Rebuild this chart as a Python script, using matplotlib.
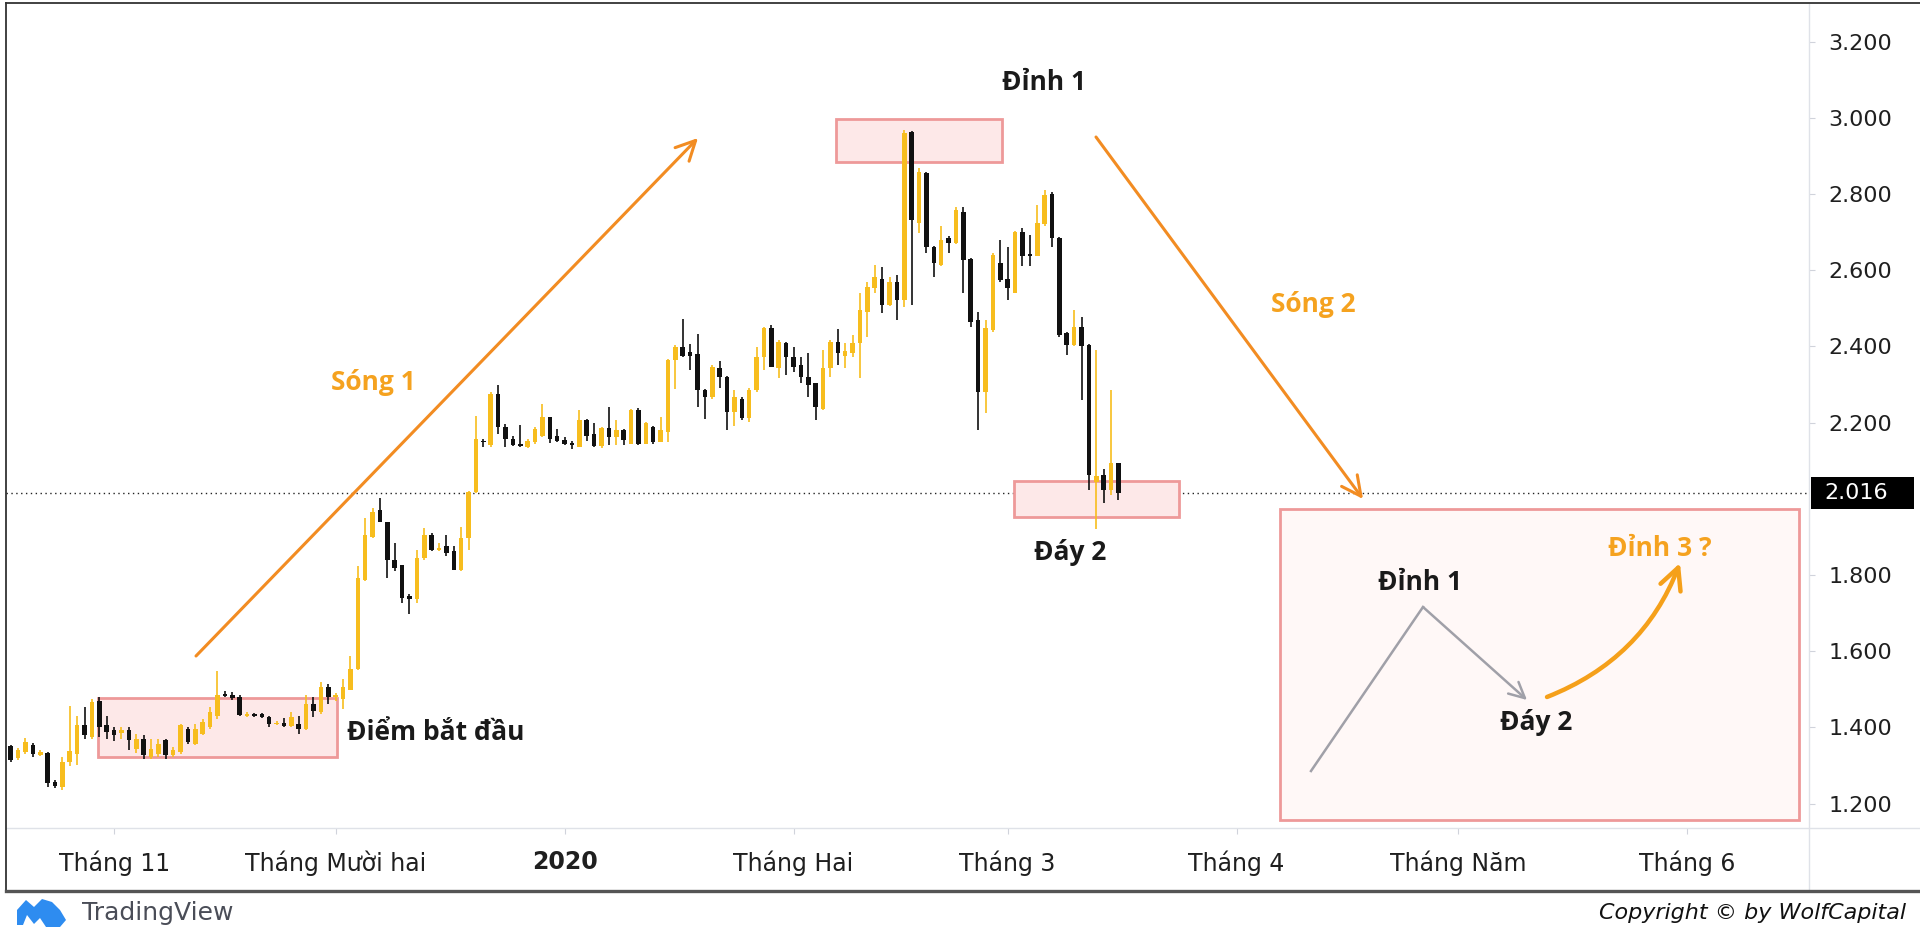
import numpy as np
import pandas as pd
import matplotlib
matplotlib.use("Agg")
import matplotlib.pyplot as plt
from matplotlib.patches import Rectangle, FancyArrowPatch, Polygon

# daily candles, 2019-10-18 .. 2020-03-16
start_date = "2019-10-18"
opens = [1.350, 1.320, 1.336, 1.355, 1.328, 1.334, 1.257, 1.244, 1.310, 1.331,
         1.405, 1.375, 1.470, 1.405, 1.392, 1.386, 1.392, 1.344, 1.370, 1.323,
         1.331, 1.366, 1.327, 1.336, 1.397, 1.357, 1.383, 1.401, 1.431, 1.487,
         1.484, 1.479, 1.431, 1.436, 1.436, 1.427, 1.408, 1.412, 1.403, 1.410,
         1.397, 1.462, 1.440, 1.505, 1.479, 1.475, 1.497, 1.553, 1.788, 1.901,
         1.971, 1.940, 1.840, 1.827, 1.744, 1.736, 1.845, 1.906, 1.866, 1.875,
         1.862, 1.814, 1.897, 2.019, 2.153, 2.140, 2.276, 2.188, 2.158, 2.143,
         2.136, 2.149, 2.166, 2.215, 2.164, 2.155, 2.145, 2.136, 2.208, 2.171,
         2.138, 2.187, 2.162, 2.181, 2.145, 2.234, 2.145, 2.188, 2.149, 2.175,
         2.363, 2.398, 2.385, 2.379, 2.285, 2.267, 2.344, 2.320, 2.228, 2.263,
         2.211, 2.285, 2.373, 2.447, 2.342, 2.408, 2.373, 2.351, 2.320, 2.303,
         2.237, 2.342, 2.412, 2.375, 2.382, 2.408, 2.491, 2.552, 2.578, 2.508,
         2.570, 2.522, 2.963, 2.723, 2.855, 2.662, 2.614, 2.684, 2.671, 2.754,
         2.629, 2.469, 2.281, 2.443, 2.618, 2.576, 2.541, 2.701, 2.643, 2.638,
         2.721, 2.800, 2.684, 2.435, 2.404, 2.452, 2.403, 2.045, 2.062, 2.023,
         2.093]
highs = [1.355, 1.346, 1.372, 1.360, 1.340, 1.336, 1.262, 1.323, 1.457, 1.431,
         1.453, 1.475, 1.479, 1.431, 1.401, 1.401, 1.401, 1.383, 1.379, 1.370,
         1.370, 1.370, 1.349, 1.410, 1.401, 1.410, 1.423, 1.453, 1.549, 1.496,
         1.492, 1.484, 1.440, 1.438, 1.438, 1.431, 1.418, 1.424, 1.440, 1.431,
         1.484, 1.479, 1.518, 1.514, 1.490, 1.527, 1.588, 1.823, 1.949, 1.975,
         2.001, 1.940, 1.884, 1.827, 1.749, 1.866, 1.923, 1.910, 1.885, 1.906,
         1.875, 1.927, 2.020, 2.217, 2.158, 2.280, 2.298, 2.197, 2.166, 2.193,
         2.158, 2.188, 2.248, 2.216, 2.184, 2.162, 2.153, 2.234, 2.210, 2.199,
         2.188, 2.241, 2.208, 2.184, 2.236, 2.238, 2.201, 2.190, 2.216, 2.368,
         2.403, 2.473, 2.407, 2.433, 2.289, 2.350, 2.362, 2.322, 2.285, 2.268,
         2.290, 2.399, 2.451, 2.456, 2.417, 2.412, 2.399, 2.373, 2.382, 2.305,
         2.390, 2.417, 2.445, 2.410, 2.430, 2.539, 2.570, 2.613, 2.609, 2.583,
         2.587, 2.968, 2.966, 2.868, 2.859, 2.664, 2.716, 2.690, 2.767, 2.767,
         2.631, 2.491, 2.469, 2.645, 2.680, 2.662, 2.702, 2.710, 2.693, 2.771,
         2.811, 2.804, 2.686, 2.437, 2.496, 2.478, 2.407, 2.390, 2.077, 2.285,
         2.095]
lows = [1.310, 1.314, 1.331, 1.323, 1.325, 1.244, 1.242, 1.236, 1.300, 1.301,
        1.370, 1.370, 1.375, 1.370, 1.363, 1.370, 1.340, 1.334, 1.318, 1.317,
        1.323, 1.318, 1.323, 1.331, 1.357, 1.353, 1.379, 1.397, 1.423, 1.479,
        1.473, 1.431, 1.427, 1.428, 1.425, 1.401, 1.405, 1.401, 1.401, 1.383,
        1.392, 1.427, 1.436, 1.462, 1.470, 1.449, 1.497, 1.550, 1.784, 1.897,
        1.940, 1.792, 1.810, 1.727, 1.697, 1.727, 1.840, 1.862, 1.862, 1.849,
        1.814, 1.810, 1.866, 2.015, 2.136, 2.136, 2.171, 2.136, 2.138, 2.136,
        2.134, 2.145, 2.162, 2.147, 2.149, 2.140, 2.131, 2.136, 2.153, 2.136,
        2.134, 2.140, 2.140, 2.140, 2.143, 2.140, 2.143, 2.143, 2.149, 2.149,
        2.289, 2.372, 2.337, 2.241, 2.210, 2.263, 2.292, 2.180, 2.191, 2.207,
        2.202, 2.281, 2.338, 2.345, 2.316, 2.325, 2.334, 2.303, 2.268, 2.207,
        2.233, 2.320, 2.351, 2.342, 2.373, 2.316, 2.425, 2.539, 2.487, 2.506,
        2.469, 2.504, 2.508, 2.697, 2.645, 2.583, 2.610, 2.645, 2.669, 2.540,
        2.452, 2.181, 2.225, 2.439, 2.570, 2.522, 2.539, 2.611, 2.610, 2.636,
        2.715, 2.662, 2.424, 2.378, 2.400, 2.260, 2.023, 1.922, 1.988, 2.010,
        1.996]
closes = [1.314, 1.340, 1.362, 1.331, 1.336, 1.253, 1.247, 1.310, 1.338, 1.405,
          1.379, 1.466, 1.401, 1.388, 1.381, 1.392, 1.366, 1.370, 1.327, 1.344,
          1.357, 1.327, 1.340, 1.405, 1.362, 1.397, 1.414, 1.440, 1.484, 1.482,
          1.477, 1.433, 1.436, 1.431, 1.427, 1.410, 1.410, 1.403, 1.427, 1.397,
          1.462, 1.444, 1.505, 1.479, 1.484, 1.505, 1.553, 1.792, 1.906, 1.966,
          1.940, 1.840, 1.819, 1.740, 1.737, 1.845, 1.906, 1.866, 1.870, 1.858,
          1.814, 1.897, 2.019, 2.156, 2.148, 2.276, 2.188, 2.158, 2.140, 2.138,
          2.153, 2.184, 2.215, 2.158, 2.151, 2.143, 2.142, 2.208, 2.166, 2.138,
          2.187, 2.162, 2.181, 2.155, 2.234, 2.145, 2.199, 2.149, 2.181, 2.363,
          2.398, 2.376, 2.376, 2.285, 2.267, 2.346, 2.320, 2.228, 2.268, 2.211,
          2.285, 2.373, 2.447, 2.347, 2.412, 2.373, 2.347, 2.320, 2.298, 2.242,
          2.342, 2.412, 2.382, 2.388, 2.408, 2.495, 2.557, 2.583, 2.508, 2.570,
          2.522, 2.959, 2.732, 2.859, 2.662, 2.618, 2.680, 2.671, 2.758, 2.627,
          2.465, 2.281, 2.448, 2.640, 2.575, 2.553, 2.701, 2.638, 2.638, 2.723,
          2.798, 2.684, 2.430, 2.404, 2.452, 2.400, 2.062, 2.060, 2.023, 2.093,
          2.016]

last_price = 2.016
# 2.000 sits under the last-price tag, so it is left out
price_ticks = [1.2, 1.4, 1.6, 1.8, 2.2, 2.4, 2.6, 2.8, 3.0, 3.2]
month_dates = ["2019-11-01", "2019-12-01", "2020-01-01", "2020-02-01",
               "2020-03-01", "2020-04-01", "2020-05-01", "2020-06-01"]
month_labels = ["Tháng 11", "Tháng Mười hai", "2020", "Tháng Hai",
                "Tháng 3", "Tháng 4", "Tháng Năm", "Tháng 6"]

W, H = 1920, 939
UP = "#F7BD1E"
DOWN = "#111111"
ORANGE_LINE = "#F28C22"
ORANGE_TXT = "#F5A21F"
BOX_EDGE = "#EE9999"
BOX_FILL = "#FDE8E8"

fig = plt.figure(figsize=(W / 100, H / 100), dpi=100)
fig.patch.set_facecolor("white")

# plot area in pixels
px_l, px_r, px_t, px_b = 6, 1809, 4, 828
ax = fig.add_axes([px_l / W, 1 - px_b / H, (px_r - px_l) / W, (px_b - px_t) / H])

# x = day index, 7.385 px per day, first candle at x px 10.7
def ix(px):
    return (px - 10.7) / 7.385

def py(px):
    return 3.2 - (px - 41.6) / 381

ax.set_xlim(ix(px_l), ix(px_r))
ax.set_ylim(py(px_b), py(px_t))

dates = pd.date_range(start_date, periods=len(closes), freq="D")
x = np.arange(len(closes))
o = np.array(opens); c = np.array(closes)
hi = np.array(highs); lo = np.array(lows)
cols = np.where(c >= o, UP, DOWN)

# last price dotted line
ax.axhline(last_price, color="#222222", lw=1.0, ls=(0, (1, 2.5)), zorder=1)

ax.vlines(x, lo, hi, colors=cols, lw=1.2, zorder=3)
body = np.maximum(np.abs(c - o), 0.004)
ax.bar(x, body, bottom=np.minimum(o, c), width=0.62, color=cols, zorder=4)

# pink zones
def zone(x0, x1, y0, y1, fill=BOX_FILL, z=2):
    ax.add_patch(Rectangle((ix(x0), py(y1)), ix(x1) - ix(x0), py(y0) - py(y1),
                           facecolor=fill, edgecolor=BOX_EDGE, lw=2.0, zorder=z))

zone(98, 337, 698, 757)
zone(836, 1002, 119, 162)
zone(1014, 1179, 481, 517)
zone(1280, 1799, 509, 820, fill="#FFF8F7", z=1.5)

bold = dict(family="Open Sans", fontweight="bold")

def label(px, ppy, s, color="#1a1a1a", size=19, ha="center"):
    ax.text(ix(px), py(ppy), s, color=color, fontsize=size, ha=ha, va="center",
            zorder=6, **bold)

label(347, 732, "Điểm bắt đầu", ha="left")
label(373, 383, "Sóng 1", color=ORANGE_TXT)
label(1044, 83, "Đỉnh 1")
label(1313, 304, "Sóng 2", color=ORANGE_TXT)
label(1070, 553, "Đáy 2")
label(1420, 582, "Đỉnh 1")
label(1536, 722, "Đáy 2")
label(1660, 548, "Đỉnh 3 ?", color=ORANGE_TXT)

# wave arrows
def arrow(p0, p1, color, lw, rad=0.0, head="->,head_length=0.7,head_width=0.35", ms=20):
    a = FancyArrowPatch((ix(p0[0]), py(p0[1])), (ix(p1[0]), py(p1[1])),
                        arrowstyle=head, connectionstyle=f"arc3,rad={rad}",
                        color=color, lw=lw, mutation_scale=ms, zorder=5,
                        shrinkA=0, shrinkB=0, capstyle="round")
    ax.add_patch(a)

arrow((196, 656), (698, 138), ORANGE_LINE, 2.2)
arrow((1096, 137), (1363, 499), ORANGE_LINE, 2.2)

# inset sketch
ax.plot([ix(1311), ix(1423)], [py(771), py(607)], color="#A0A0A8", lw=1.8, zorder=5)
arrow((1423, 607), (1527, 700), "#A0A0A8", 1.8, ms=16)
arrow((1547, 697), (1680, 563), "#F5A01A", 3.2, rad=0.22, ms=22)

# axes styling
for s in ax.spines.values():
    s.set_visible(False)
ax.yaxis.tick_right()
ax.set_yticks(price_ticks)
ax.set_yticklabels([f"{v:.3f}" for v in price_ticks])
ax.tick_params(axis="y", length=4, width=0.8, color="#d0d3db", pad=10,
               labelsize=16, labelcolor="#1f1f1f")

tick_idx = [(pd.Timestamp(d) - dates[0]).days for d in month_dates]
ax.set_xticks(tick_idx)
ax.set_xticklabels(month_labels)
ax.tick_params(axis="x", length=4, width=0.8, color="#d0d3db", pad=12,
               labelsize=17, labelcolor="#1f1f1f")
for t in ax.get_xticklabels():
    if t.get_text() == "2020":
        t.set_fontweight("bold")

# separators and frame
fig.add_artist(plt.Line2D([px_r / W, px_r / W], [1 - px_t / H, 1 - 891 / H],
                          color="#dfe2e8", lw=1.0))
fig.add_artist(plt.Line2D([px_l / W, 1], [1 - px_b / H, 1 - px_b / H],
                          color="#dfe2e8", lw=1.0))
fig.add_artist(plt.Line2D([px_l / W, px_l / W], [1 - 3 / H, 1 - 891 / H],
                          color="#333333", lw=1.3))
fig.add_artist(plt.Line2D([px_l / W, 1], [1 - 3 / H, 1 - 3 / H],
                          color="#333333", lw=1.3))
fig.add_artist(plt.Line2D([px_l / W, 1], [1 - 891 / H, 1 - 891 / H],
                          color="#555555", lw=2.4))

# last price tag on the price scale
yp = 1 - (41.6 + (3.2 - last_price) * 381) / H
fig.patches.append(Rectangle((1811 / W, yp - 16 / H), 103 / W, 32 / H,
                             transform=fig.transFigure, facecolor="black",
                             edgecolor="none", zorder=5))
fig.text(1824 / W, yp, f"{last_price:.3f}", color="white", fontsize=16,
         va="center", ha="left", zorder=6)

# footer
logo = Polygon([(17, 925), (17, 910), (26, 900), (34, 907), (42, 899), (52, 902),
                (60, 910), (66, 920), (60, 927), (46, 927), (40, 918), (34, 924),
                (27, 915), (23, 925)], closed=True)
logo.set_xy(np.column_stack([logo.get_xy()[:, 0] / W, 1 - logo.get_xy()[:, 1] / H]))
logo.set_transform(fig.transFigure)
logo.set_facecolor("#2E8CF0")
logo.set_edgecolor("none")
fig.patches.append(logo)
fig.text(82 / W, 1 - 913 / H, "TradingView", fontsize=18, color="#4a4d57",
         va="center", ha="left")
fig.text(1906 / W, 1 - 913 / H, "Copyright © by WolfCapital", fontsize=16,
         color="#111111", style="italic", va="center", ha="right")

fig.savefig("out.png", dpi=100)
